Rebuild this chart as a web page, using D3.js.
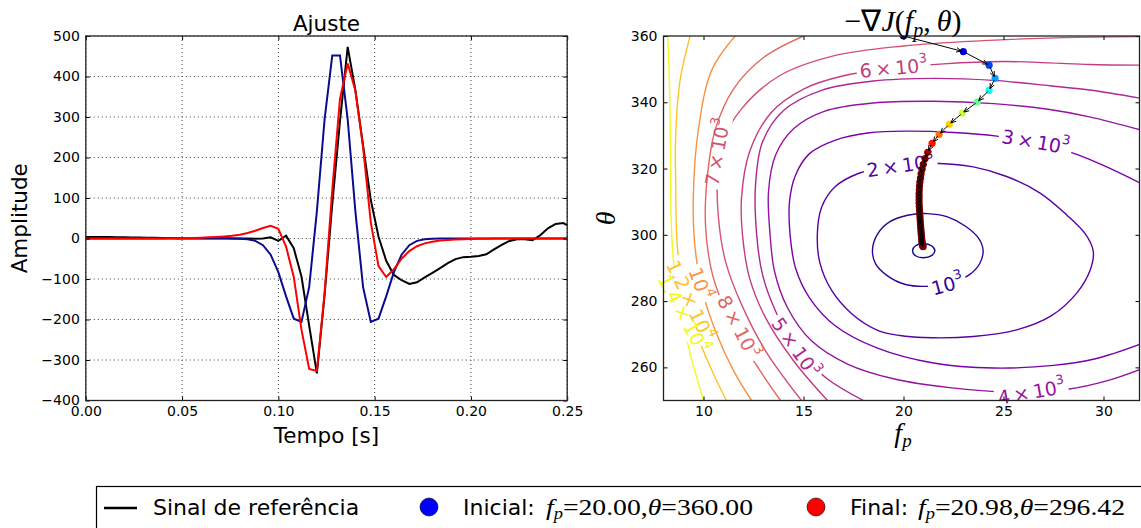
<!DOCTYPE html>
<html><head><meta charset="utf-8">
<script src="https://cdn.jsdelivr.net/npm/d3@7"></script>
<style>
body{margin:0;background:#fff;}
svg{display:block;}
</style></head><body>
<svg id="c" width="1141" height="528" font-family="DejaVu Sans"></svg>
<script>
// ---------------- DATA ----------------
const sampleTimes = [0.000,0.004,0.008,0.012,0.016,0.020,0.024,0.028,0.032,0.036,0.040,0.044,0.048,0.052,0.056,0.060,0.064,0.068,0.072,0.076,0.080,0.084,0.088,0.092,0.096,0.100,0.104,0.108,0.112,0.116,0.120,0.124,0.128,0.132,0.136,0.140,0.144,0.148,0.152,0.156,0.160,0.164,0.168,0.172,0.176,0.180,0.184,0.188,0.192,0.196,0.200,0.204,0.208,0.212,0.216,0.220,0.224,0.228,0.232,0.236,0.240,0.244,0.248,0.252];
const referenceSignal = [4,4,3.8,3.5,3.2,3,2.5,2.2,2,1.6,1.3,1,0.8,0.6,0.6,0.7,0.8,0.6,0.4,0.3,0.2,0.1,-0.5,0,3,-6,7,-24,-94,-215,-333,-140,85,290,473,366,230,95,5,-55,-90,-103,-112,-108,-96,-85,-73,-61,-51,-46,-45,-43,-39,-27,-16,-6,-2,-2,-4,8,25,36,38,28];
const initialWavelet = [0,0,0,0,0,0,0,0,0,0,0,0,0,0,0,0,0,0,0,-0.1,-0.5,-1.8,-5.8,-16.5,-40,-83,-143,-198,-206,-120,67,294,452,452,294,67,-120,-206,-198,-143,-83,-40,-16.5,-5.8,-1.8,-0.5,-0.1,0,0,0,0,0,0,0,0,0,0,0,0,0,0,0,0,0];
const finalWavelet = [0,0,0,0,0,0,0.1,0.1,0.2,0.2,0.3,0.5,0.7,1.0,1.4,2.0,2.8,3.8,5.2,7,9.5,13.5,19,26,31.5,24,-20,-95,-225,-322,-327,-135,120,345,432,365,225,40,-68,-95,-76,-50,-31,-19,-12,-8,-5,-3.5,-2.5,-1.8,-1.2,-0.8,-0.5,-0.3,-0.2,-0.1,-0.1,0,0,0,0,0,0,0];

const leftXTicks = [0,0.05,0.10,0.15,0.20,0.25];
const leftYTicks = [-400,-300,-200,-100,0,100,200,300,400,500];
const rightXTicks = [10,15,20,25,30];
const rightYTicks = [260,280,300,320,340,360];

// gradient descent path (fp, theta)
const pathFp =    [20.00,22.99,24.28,24.58,24.28,23.69,22.94,22.29,21.78,21.43,21.21,21.08,20.99,20.93,20.88,20.85,20.82,20.80,20.79,20.78,20.78,20.78,20.78,20.79,20.80,20.81,20.82,20.83,20.84,20.85,20.86,20.87,20.88,20.89,20.90,20.91,20.92,20.93,20.94,20.95,20.96,20.98];
const pathTheta = [360.00,355.3,351.2,347.2,343.6,340.1,336.7,333.4,330.3,327.6,324.9,323.0,321.3,319.8,318.4,317.1,315.9,314.7,313.6,312.5,311.5,310.5,309.5,308.5,307.5,306.6,305.7,304.8,303.9,303.1,302.3,301.5,300.8,300.1,299.4,298.8,298.2,297.7,297.3,296.9,296.7,296.42];

// contour levels and traced contour lines (fp, theta)
const contourLevels = [500,1000,2000,3000,4000,5000,6000,7000,8000,10000,12000,14000];
const contour500 = [[21.0,297.3],[21.4,296.7],[21.57,295.2],[21.4,293.7],[21.0,293.1],[20.6,293.7],[20.45,295.2],[20.6,296.7]];
const contour1e3 = [[18.45,295.5],[18.7,300.2],[19.3,303.9],[20.2,305.9],[21.2,306.4],[22.2,305.4],[23.1,302.6],[23.75,299.0],[23.98,295.3],[23.8,291.2],[23.3,288.0],[22.5,285.8],[21.3,284.5],[20.1,285.0],[19.2,287.6],[18.6,291.3]];
const contour2e3 = [[21.5,321.6],[23.49,320.5],[25.16,317.6],[26.83,312.6],[28.16,306.0],[29.1,300.2],[29.49,295.0],[29.33,289.3],[28.66,282.4],[27.4,275.6],[25.66,271.3],[23.49,269.3],[21.0,269.0],[19.83,269.6],[18.74,271.1],[17.41,276.2],[16.41,283.2],[15.83,291.3],[15.69,300.0],[15.91,308.4],[16.58,314.5],[17.74,318.5],[19.6,321.0]];
const contour3e3 = [[31.88,315.5],[30.16,320.5],[28.66,324.3],[26.7,327.6],[24.66,329.8],[22.5,330.9],[20.16,331.3],[18.3,330.8],[16.6,328.6],[15.3,324.5],[14.6,318],[14.3,310],[14.33,300],[14.6,290],[15.3,281],[16.6,272.5],[18.7,265.8],[21.5,261.3],[24.5,259.8],[27.5,260.6],[29.6,262.6],[31.88,267.1]];
const contour4e3 = [[31.88,331.6],[29.3,335.6],[27.3,337.8],[24.5,339.6],[21.5,340.3],[18.5,339.8],[16.0,337.2],[14.5,332],[13.6,324],[13.25,313],[13.33,300],[13.55,289],[14.2,278],[15.4,268],[17.2,261],[19.6,256.4],[22.3,253.9],[25.2,252.6],[28.2,253.4],[30.2,256.0],[31.88,259.5]];
const contour5e3 = [[31.88,341.2],[29.3,343.7],[27.3,345.0],[24.5,346.6],[21.5,347.2],[18.5,346.4],[15.9,343.6],[14.0,337.5],[12.95,328],[12.6,315],[12.66,300],[12.95,288],[13.6,277],[14.58,266],[16.2,256.5],[18.0,250]];
const contour6e3 = [[31.88,351.2],[29.3,351.4],[27.3,351.9],[25,352.3],[22,351.6],[19.5,350.3],[17,348],[15,344],[13.4,337],[12.3,325],[11.9,311],[11.95,300],[12.3,287],[13.1,275],[14.5,262],[16.2,250]];
const contour7e3 = [[31.88,359.8],[28,359.5],[24,358.6],[20,357],[16.5,354],[13.8,348],[11.9,338],[10.95,328],[10.7,318],[10.75,305],[11.1,292],[11.9,279],[13.1,265],[14.9,250]];
const contour8e3 = [[15.0,360],[13.0,353.5],[11.5,344],[10.6,332],[10.2,318],[10.1,303],[10.45,288],[11.2,276],[12.4,263],[13.85,250]];
const contour1e4 = [[11.58,360],[10.41,349.7],[9.74,331.6],[9.49,311.4],[9.55,298],[9.9,284],[10.6,271],[11.5,259],[12.4,250]];
const contour12e3 = [[9.33,360],[8.83,346.7],[8.61,330],[8.61,315],[8.71,295.3],[9.1,282],[9.8,268],[10.5,258],[11.15,250]];
const contour14e3 = [[8.21,360],[8.3,345],[8.35,325],[8.38,305],[8.5,292],[8.8,279],[9.3,265],[10.0,250]];
const contourClosed = [true,true,true,false,false,false,false,false,false,false,false,false];

// contour labels: level, fp, theta, rotation (deg)
const labelLevels = [1000,2000,3000,4000,5000,6000,7000,8000,10000,12000,14000];
const labelFp =     [22.2,19.85,26.6,26.4,14.6,19.5,10.7,11.74,9.83,9.33,8.99];
const labelTheta =  [284.9,320.8,328.0,252.5,266.0,350.3,325.0,272.2,285.3,280.2,276.2];
const labelAngle =  [-15,-8,10,-10,55,-5,-80,62,70,65,62];

// ---------------- DRAW ----------------
const svg = d3.select("#c");
const defs = svg.append("defs");
const serif = "Liberation Serif";

// ===== LEFT PLOT =====
const L = {x0:85.8, x1:567.2, y0:36, y1:400.5};
const xL = d3.scaleLinear().domain([0,0.25]).range([L.x0,L.x1]);
const yL = d3.scaleLinear().domain([-400,500]).range([L.y1,L.y0]);

defs.append("clipPath").attr("id","clipL").append("rect")
  .attr("x",L.x0).attr("y",L.y0).attr("width",L.x1-L.x0).attr("height",L.y1-L.y0);

const gL = svg.append("g");
gL.selectAll(".gx").data(leftXTicks).join("line")
  .attr("x1",d=>xL(d)).attr("x2",d=>xL(d)).attr("y1",L.y0).attr("y2",L.y1)
  .attr("stroke","#444").attr("stroke-width",1).attr("stroke-dasharray","1,3");
gL.selectAll(".gy").data(leftYTicks).join("line")
  .attr("y1",d=>yL(d)).attr("y2",d=>yL(d)).attr("x1",L.x0).attr("x2",L.x1)
  .attr("stroke","#444").attr("stroke-width",1).attr("stroke-dasharray","1,3");

const lineGen = d3.line().x((d,i)=>xL(sampleTimes[i])).y(d=>yL(d));
const gLines = gL.append("g").attr("clip-path","url(#clipL)");
gLines.append("path").datum(referenceSignal).attr("d",lineGen).attr("fill","none").attr("stroke","#000").attr("stroke-width",2);
gLines.append("path").datum(initialWavelet).attr("d",lineGen).attr("fill","none").attr("stroke","#0b0b8f").attr("stroke-width",2);
gLines.append("path").datum(finalWavelet).attr("d",lineGen).attr("fill","none").attr("stroke","#ff0000").attr("stroke-width",2);

function axesFrame(g, B, xs, ys, xt, yt, xfmt, yfmt){
  const ab = g.append("g").attr("transform",`translate(0,${B.y1})`)
    .call(d3.axisBottom(xs).tickValues(xt).tickSize(-4).tickPadding(6).tickFormat(xfmt));
  const at = g.append("g").attr("transform",`translate(0,${B.y0})`)
    .call(d3.axisTop(xs).tickValues(xt).tickSize(-4).tickFormat(""));
  const al = g.append("g").attr("transform",`translate(${B.x0},0)`)
    .call(d3.axisLeft(ys).tickValues(yt).tickSize(-4).tickPadding(6).tickFormat(yfmt));
  const ar = g.append("g").attr("transform",`translate(${B.x1},0)`)
    .call(d3.axisRight(ys).tickValues(yt).tickSize(-4).tickFormat(""));
  [ab,at,al,ar].forEach(a=>{
    a.attr("font-family",null).attr("font-size",null);
    a.select(".domain").remove();
    a.selectAll(".tick line").attr("stroke","#000").attr("stroke-width",1);
    a.selectAll("text").attr("font-family","DejaVu Sans").attr("font-size",14).attr("fill","#000");
  });
  g.append("rect").attr("x",B.x0).attr("y",B.y0).attr("width",B.x1-B.x0).attr("height",B.y1-B.y0)
    .attr("fill","none").attr("stroke","#222").attr("stroke-width",1.3);
}
axesFrame(gL, L, xL, yL, leftXTicks, leftYTicks, d3.format(".2f"), d3.format("d"));

svg.append("text").attr("x",(L.x0+L.x1)/2).attr("y",30.5).attr("text-anchor","middle")
  .attr("font-size",21.5).text("Ajuste");
svg.append("text").attr("x",(L.x0+L.x1)/2).attr("y",443).attr("text-anchor","middle")
  .attr("font-size",21.5).text("Tempo [s]");
svg.append("text").attr("transform",`translate(26.5,${(L.y0+L.y1)/2}) rotate(-90)`).attr("text-anchor","middle")
  .attr("font-size",21.5).text("Amplitude");

// ===== RIGHT PLOT =====
const R = {x0:663.5, x1:1139.5, y0:36, y1:400.5};
const xR = d3.scaleLinear().domain([8,31.8]).range([R.x0,R.x1]);
const yR = d3.scaleLinear().domain([250,360]).range([R.y1,R.y0]);
defs.append("clipPath").attr("id","clipR").append("rect")
  .attr("x",R.x0).attr("y",R.y0).attr("width",R.x1-R.x0).attr("height",R.y1-R.y0);

const gR = svg.append("g");
const colorOf = lv => d3.interpolatePlasma(Math.pow((lv-contourLevels[0])/(contourLevels[contourLevels.length-1]-contourLevels[0]),0.85));
const contourData = [contour500,contour1e3,contour2e3,contour3e3,contour4e3,contour5e3,contour6e3,contour7e3,contour8e3,contour1e4,contour12e3,contour14e3];

function labelText(lv){
  const e = Math.floor(Math.log10(lv)+1e-9);
  const m = lv/Math.pow(10,e);
  const mant = Math.abs(m-1)<1e-9 ? "10" : (d3.format("~g")(m)+"\u2009\u00d7\u200910");
  return [mant, String(e)];
}

const gLab = gR.append("g");
const labelInfo = labelLevels.map((lv,i)=>{
  const x = xR(labelFp[i]), y = yR(labelTheta[i]);
  const t = gLab.append("text")
    .attr("transform",`translate(${x},${y}) rotate(${labelAngle[i]})`)
    .attr("text-anchor","middle").attr("dy","0.35em")
    .attr("font-size",19).attr("fill",colorOf(lv));
  const [mant,ex] = labelText(lv);
  t.append("tspan").text(mant);
  t.append("tspan").attr("font-size",13).attr("dy","-0.75em").text(ex);
  const bb = t.node().getBBox();
  return {lv,x,y,a:labelAngle[i],bb};
});

const gC = gR.append("g").attr("clip-path","url(#clipR)");
contourData.forEach((pts,ci)=>{
  const lv = contourLevels[ci];
  const mid = "mask"+ci;
  const m = defs.append("mask").attr("id",mid).attr("maskUnits","userSpaceOnUse")
    .attr("x",0).attr("y",0).attr("width",1141).attr("height",528);
  m.append("rect").attr("x",0).attr("y",0).attr("width",1141).attr("height",528).attr("fill","#fff");
  labelInfo.filter(d=>d.lv===lv).forEach(d=>{
    m.append("rect").attr("transform",`translate(${d.x},${d.y}) rotate(${d.a})`)
      .attr("x",d.bb.x-3).attr("y",d.bb.y+1).attr("width",d.bb.width+6).attr("height",d.bb.height-2).attr("fill","#000");
  });
  const lg = d3.line().x(d=>xR(d[0])).y(d=>yR(d[1]))
    .curve(contourClosed[ci] ? d3.curveCatmullRomClosed.alpha(0.5) : d3.curveCatmullRom.alpha(0.5));
  gC.append("path").datum(pts).attr("d",lg).attr("fill","none")
    .attr("stroke",colorOf(lv)).attr("stroke-width",1.4).attr("mask",`url(#${mid})`);
});
gLab.raise();

// gradient path
const jet = d3.scaleLinear().domain([0,0.125,0.375,0.625,0.875,1])
  .range(["#00007f","#0000ff","#00ffff","#ffff00","#ff0000","#7f0000"]).clamp(true);
const gP = gR.append("g").attr("clip-path","url(#clipR)");
const pts = pathFp.map((f,i)=>[xR(f), yR(pathTheta[i])]);
gP.selectAll("circle").data(pts).join("circle")
  .attr("cx",d=>d[0]).attr("cy",d=>d[1]).attr("r",3.6)
  .attr("fill",(d,i)=>jet(i/10.5)).attr("stroke","none");
for(let i=0;i<pts.length-1;i++){
  const [x0,y0]=pts[i],[x1,y1]=pts[i+1];
  const dx=x1-x0, dy=y1-y0, len=Math.hypot(dx,dy);
  if(len<0.5) continue;
  const ux=dx/len, uy=dy/len;
  const s = Math.min(2, len*0.2);
  const ax0=x0+ux*s, ay0=y0+uy*s, ax1=x1-ux*s, ay1=y1-uy*s;
  gP.append("line").attr("x1",ax0).attr("y1",ay0).attr("x2",ax1).attr("y2",ay1)
    .attr("stroke","#000").attr("stroke-width",1);
  const hl=5.5, ang=0.42;
  const ca=Math.cos(ang), sa=Math.sin(ang);
  const b1x=ax1-hl*(ux*ca-uy*sa), b1y=ay1-hl*(uy*ca+ux*sa);
  const b2x=ax1-hl*(ux*ca+uy*sa), b2y=ay1-hl*(uy*ca-ux*sa);
  gP.append("path").attr("d",`M${b1x},${b1y}L${ax1},${ay1}L${b2x},${b2y}`)
    .attr("fill","none").attr("stroke","#000").attr("stroke-width",1);
}

axesFrame(gR, R, xR, yR, rightXTicks, rightYTicks, d3.format("d"), d3.format("d"));

// right titles (math style, serif)
const tt = svg.append("text").attr("x",903).attr("y",31).attr("text-anchor","middle")
  .attr("font-family",serif).attr("font-size",30);
tt.append("tspan").text("\u2212\u2207");
tt.append("tspan").attr("font-style","italic").text("J");
tt.append("tspan").text("(");
tt.append("tspan").attr("font-style","italic").text("f");
tt.append("tspan").attr("font-style","italic").attr("font-size",20).attr("dy","6").text("p");
tt.append("tspan").attr("dy","-6").text(",\u2009");
tt.append("tspan").attr("font-style","italic").text("\u03b8");
tt.append("tspan").text(")");

const xlab = svg.append("text").attr("x",903).attr("y",442).attr("text-anchor","middle")
  .attr("font-family",serif).attr("font-size",28).attr("font-style","italic");
xlab.append("tspan").text("f");
xlab.append("tspan").attr("font-size",19).attr("dy","5").text("p");
svg.append("text").attr("transform",`translate(615,${(R.y0+R.y1)/2}) rotate(-90)`)
  .attr("text-anchor","middle").attr("font-family",serif).attr("font-size",28).attr("font-style","italic").text("\u03b8");

// ===== LEGEND =====
const lg = svg.append("g");
lg.append("rect").attr("x",96.5).attr("y",486.5).attr("width",1100).attr("height",80)
  .attr("fill","#fff").attr("stroke","#000").attr("stroke-width",1.2);
lg.append("line").attr("x1",104).attr("x2",137).attr("y1",508).attr("y2",508).attr("stroke","#000").attr("stroke-width",2.5);
lg.append("text").attr("x",153).attr("y",515).attr("font-size",22).text("Sinal de referência");
lg.append("circle").attr("cx",429).attr("cy",507).attr("r",9).attr("fill","#0000ff").attr("stroke","#000").attr("stroke-width",0.6);
lg.append("text").attr("x",463).attr("y",515).attr("font-size",22).text("Inicial:");
function mathLegend(x, fpv, thv, w){
  const t = lg.append("text").attr("x",x).attr("y",515).attr("font-family",serif).attr("font-size",24)
    .attr("textLength",w).attr("lengthAdjust","spacingAndGlyphs");
  t.append("tspan").attr("font-style","italic").text("f");
  t.append("tspan").attr("font-style","italic").attr("font-size",16).attr("dy","4").text("p");
  t.append("tspan").attr("dy","-4").text("=" + fpv + ",");
  t.append("tspan").attr("font-style","italic").text("\u03b8");
  t.append("tspan").text("=" + thv);
}
mathLegend(546, "20.00", "360.00", 207);
lg.append("circle").attr("cx",816).attr("cy",507).attr("r",9).attr("fill","#ff0000").attr("stroke","#000").attr("stroke-width",0.6);
lg.append("text").attr("x",850).attr("y",515).attr("font-size",22).text("Final:");
mathLegend(918, "20.98", "296.42", 207);
</script>
</body></html>
